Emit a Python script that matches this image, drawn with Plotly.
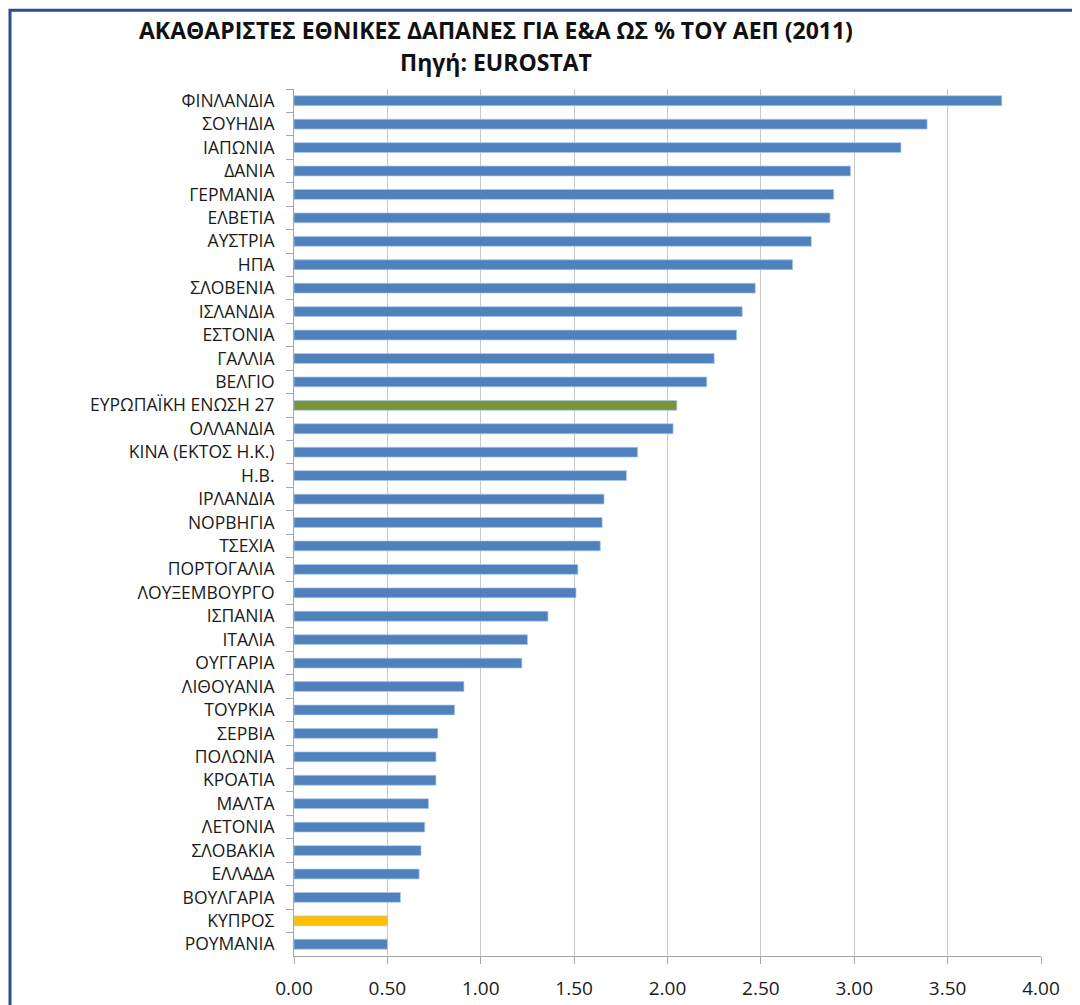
import plotly.graph_objects as go

countries = [
    "ΦΙΝΛΑΝΔΙΑ", "ΣΟΥΗΔΙΑ", "ΙΑΠΩΝΙΑ", "ΔΑΝΙΑ", "ΓΕΡΜΑΝΙΑ", "ΕΛΒΕΤΙΑ", "ΑΥΣΤΡΙΑ",
    "ΗΠΑ", "ΣΛΟΒΕΝΙΑ", "ΙΣΛΑΝΔΙΑ", "ΕΣΤΟΝΙΑ", "ΓΑΛΛΙΑ", "ΒΕΛΓΙΟ",
    "ΕΥΡΩΠΑΪΚΗ ΕΝΩΣΗ 27", "ΟΛΛΑΝΔΙΑ", "ΚΙΝΑ (ΕΚΤΟΣ Η.Κ.)", "Η.Β.", "ΙΡΛΑΝΔΙΑ",
    "ΝΟΡΒΗΓΙΑ", "ΤΣΕΧΙΑ", "ΠΟΡΤΟΓΑΛΙΑ", "ΛΟΥΞΕΜΒΟΥΡΓΟ", "ΙΣΠΑΝΙΑ", "ΙΤΑΛΙΑ",
    "ΟΥΓΓΑΡΙΑ", "ΛΙΘΟΥΑΝΙΑ", "ΤΟΥΡΚΙΑ", "ΣΕΡΒΙΑ", "ΠΟΛΩΝΙΑ", "ΚΡΟΑΤΙΑ", "ΜΑΛΤΑ",
    "ΛΕΤΟΝΙΑ", "ΣΛΟΒΑΚΙΑ", "ΕΛΛΑΔΑ", "ΒΟΥΛΓΑΡΙΑ", "ΚΥΠΡΟΣ", "ΡΟΥΜΑΝΙΑ",
]
values = [
    3.79, 3.39, 3.25, 2.98, 2.89, 2.87, 2.77,
    2.67, 2.47, 2.40, 2.37, 2.25, 2.21,
    2.05, 2.03, 1.84, 1.78, 1.66,
    1.65, 1.64, 1.52, 1.51, 1.36, 1.25,
    1.22, 0.91, 0.86, 0.77, 0.76, 0.76, 0.72,
    0.70, 0.68, 0.67, 0.57, 0.50, 0.50,
]
tick_vals = [0, 0.5, 1, 1.5, 2, 2.5, 3, 3.5, 4]
tick_text = ["0.00", "0.50", "1.00", "1.50", "2.00", "2.50", "3.00", "3.50", "4.00"]

BLUE = "#4F81BD"
GREEN = "#77933C"
YELLOW = "#FFC000"
colors = []
for c in countries:
    if c == "ΕΥΡΩΠΑΪΚΗ ΕΝΩΣΗ 27":
        colors.append(GREEN)
    elif c == "ΚΥΠΡΟΣ":
        colors.append(YELLOW)
    else:
        colors.append(BLUE)

FONT = "Open Sans"

# page body has an 8px margin; plot area in screen px: x 294..1041, y 89..958
L, R, T, B = 286, 47, 81, 55

fig = go.Figure(
    go.Bar(
        x=values,
        y=countries,
        orientation="h",
        marker=dict(color=colors, line=dict(color="rgba(170,200,235,0.7)", width=1)),
        hoverinfo="x+y",
    )
)

fig.update_layout(
    width=1080,
    height=1005,
    margin=dict(l=L, r=R, t=T, b=B),
    paper_bgcolor="white",
    plot_bgcolor="white",
    bargap=0.58,
    showlegend=False,
    font=dict(family=FONT, color="#1a1a1a"),
)

fig.update_xaxes(
    range=[0, 4],
    tickvals=tick_vals,
    ticktext=tick_text,
    showgrid=True,
    gridcolor="#C8C8C8",
    gridwidth=1,
    showline=True,
    linecolor="#A6A6A6",
    linewidth=1,
    ticks="outside",
    ticklen=7,
    tickcolor="#A6A6A6",
    ticklabelstandoff=8,
    tickfont=dict(family=FONT, size=19, color="#1a1a1a"),
    zeroline=False,
    fixedrange=True,
)
fig.update_yaxes(
    categoryorder="array",
    categoryarray=countries,
    autorange="reversed",
    showline=True,
    linecolor="#A6A6A6",
    linewidth=1,
    ticks="outside",
    tickson="boundaries",
    ticklen=7,
    tickcolor="#A6A6A6",
    ticklabelstandoff=15,
    tickfont=dict(family=FONT, size=17.5, color="#1a1a1a"),
    showgrid=False,
    fixedrange=True,
)

pw = 1080 - L - R
ph = 1005 - T - B


def px_x(sx):
    return (sx - 8 - L) / pw


def px_y(sy):
    return (1005 - B - (sy - 8)) / ph


# Titles
fig.add_annotation(
    text="<b>ΑΚΑΘΑΡΙΣΤΕΣ ΕΘΝΙΚΕΣ ΔΑΠΑΝΕΣ ΓΙΑ Ε&Α ΩΣ % ΤΟΥ ΑΕΠ (2011)</b>",
    xref="paper", yref="paper", x=px_x(496), y=px_y(30),
    xanchor="center", yanchor="middle", showarrow=False,
    font=dict(family=FONT, size=23, color="#111111"),
)
fig.add_annotation(
    text="<b>Πηγή: EUROSTAT</b>",
    xref="paper", yref="paper", x=px_x(496), y=px_y(62),
    xanchor="center", yanchor="middle", showarrow=False,
    font=dict(family=FONT, size=23, color="#111111"),
)

# Outer frame
fig.add_shape(
    type="rect", xref="paper", yref="paper",
    x0=px_x(10), x1=px_x(1100), y0=px_y(1030), y1=px_y(10),
    line=dict(color="#2C4D86", width=3), fillcolor="rgba(0,0,0,0)",
    layer="above",
)

fig.write_html("out.html")
